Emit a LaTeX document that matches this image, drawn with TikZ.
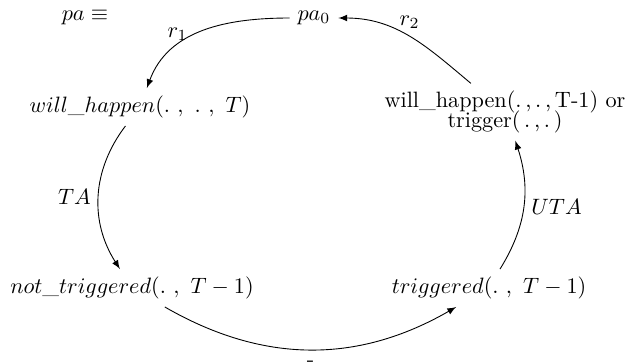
\documentclass[tikz,border=0pt]{standalone}
\usepackage{amsmath, amssymb}
\usetikzlibrary{arrows.meta}

\begin{document}
\begin{tikzpicture}[>=latex, x=0.45pt, y=0.45pt]
\useasboundingbox (0,0) rectangle (629,-363);

% Nodes
\node (eq) at (85,-18) {$pa \equiv$};
\node (pa0) at (314,-18) {$pa_0$};
\node (wh) at (140,-107) {$will\_happen(.\ ,\ .\ ,\ T)$};
\node[align=center] (rt) at (505,-112) {will\_happen(.\,,\,.\,,\,T-1) or\\[-3.3pt] trigger(\,.\,,\,.\,)};
\node (nt) at (132,-288) {$not\_triggered(.\ ,\ T-1)$};
\node (tr) at (489,-288) {$triggered(.\ ,\ T-1)$};

% Arrows - top
\draw[->] (pa0) to[out=180, in=70] node[pos=0.55, left] {$r_1$} (wh);
\draw[->] (rt) to[out=140, in=0] node[above] {$r_2$} (pa0);

% Arrows - sides and bottom
\draw[->] (wh) to[bend right=35] node[left] {$TA$} (nt);
\draw[->] (nt) to[bend right=30] node[below, yshift=-1.5pt] {-} (tr);
\draw[->] (tr) to[bend right=25] node[right] {$UTA$} (rt);

\end{tikzpicture}
\end{document}
